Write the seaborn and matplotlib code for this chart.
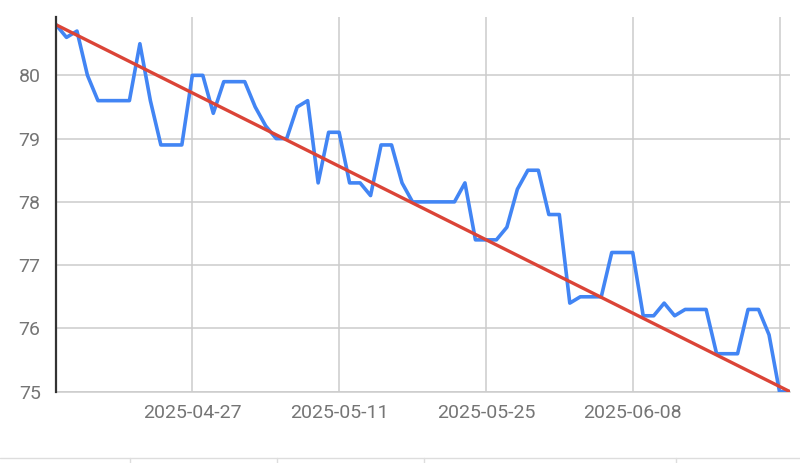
import numpy as np
import pandas as pd
import matplotlib
matplotlib.use('Agg')
import matplotlib.pyplot as plt
import matplotlib.dates as mdates
from matplotlib.lines import Line2D
import seaborn as sns

# ── data (daily values) ─────────────────────────────────────
start_date = '2025-04-14'
values = [80.8, 80.6, 80.7, 80.0, 79.6, 79.6, 79.6, 79.6, 80.5, 79.6,
          78.9, 78.9, 78.9, 80.0, 80.0, 79.4, 79.9, 79.9, 79.9, 79.5,
          79.2, 79.0, 79.0, 79.5, 79.6, 78.3, 79.1, 79.1, 78.3, 78.3,
          78.1, 78.9, 78.9, 78.3, 78.0, 78.0, 78.0, 78.0, 78.0, 78.3,
          77.4, 77.4, 77.4, 77.6, 78.2, 78.5, 78.5, 77.8, 77.8, 76.4,
          76.5, 76.5, 76.5, 77.2, 77.2, 77.2, 76.2, 76.2, 76.4, 76.2,
          76.3, 76.3, 76.3, 75.6, 75.6, 75.6, 76.3, 76.3, 75.9, 75.0,
          75.0]
tick_dates  = ['2025-04-27', '2025-05-11', '2025-05-25', '2025-06-08', '2025-06-22']
tick_labels = ['2025-04-27', '2025-05-11', '2025-05-25', '2025-06-08', '']
y_ticks = [75, 76, 77, 78, 79, 80]

df = pd.DataFrame({'date': pd.date_range(start_date, periods=len(values), freq='D'),
                   'value': values})

# straight trend line from the first to the last reading
xnum = mdates.date2num(df['date'])
df['trend'] = np.interp(xnum, [xnum[0], xnum[-1]], [values[0], values[-1]])

# ── style ───────────────────────────────────────────────────
BLUE = '#4285F4'
RED = '#DB4437'
GRID = '#cccccc'
LABEL = '#757575'

sns.set_style('white')
plt.rcParams['font.family'] = ['Roboto', 'DejaVu Sans']

fig = plt.figure(figsize=(8, 4.63), dpi=100)
ax = fig.add_axes([0.07, 0.154, 0.9175, 0.809])

sns.lineplot(data=df, x='date', y='value', ax=ax, color=BLUE, linewidth=2.6, zorder=3)
sns.lineplot(data=df, x='date', y='trend', ax=ax, color=RED, linewidth=2.4, zorder=4)

ax.set_xlim(df['date'].iloc[0], df['date'].iloc[-1])
ax.set_ylim(75, 80.92)
ax.set_yticks(y_ticks)
ax.set_yticklabels([str(v) for v in y_ticks])
ax.set_xticks(pd.to_datetime(tick_dates))
ax.set_xticklabels(tick_labels)
ax.set_xlabel('')
ax.set_ylabel('')

ax.grid(True, color=GRID, linewidth=1.1)
ax.set_axisbelow(True)
ax.tick_params(axis='both', length=0, labelsize=14, labelcolor=LABEL)
ax.tick_params(axis='y', pad=11)
ax.tick_params(axis='x', pad=9)

for side in ['top', 'right']:
    ax.spines[side].set_visible(False)
ax.spines['bottom'].set_color(GRID)
ax.spines['bottom'].set_linewidth(1.1)
ax.spines['left'].set_color('#333333')
ax.spines['left'].set_linewidth(1.6)
ax.spines['left'].set_zorder(5)

# faint border of the element below the chart
H = 463.0
fig.add_artist(Line2D([0, 1], [1 - 458 / H] * 2, transform=fig.transFigure,
                      color='#dddddd', linewidth=1))
for px in [130, 277, 424, 676]:
    fig.add_artist(Line2D([px / 800] * 2, [0, 1 - 458 / H], transform=fig.transFigure,
                          color='#dddddd', linewidth=1))

fig.savefig('out.png', dpi=100, facecolor='white')
